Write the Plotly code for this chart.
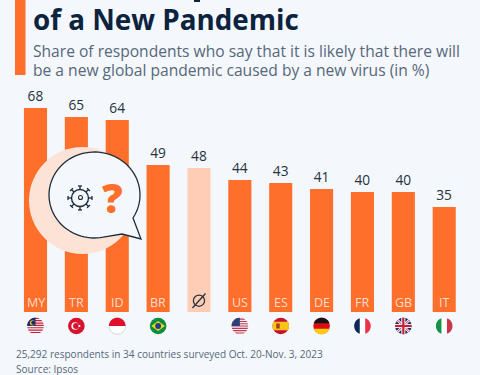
import math
import plotly.graph_objects as go

codes = ["MY", "TR", "ID", "BR", "Ø", "US", "ES", "DE", "FR", "GB", "IT"]
values = [68, 65, 64, 49, 48, 44, 43, 41, 40, 40, 35]
title_line = "of a New Pandemic"
subtitle_lines = ["Share of respondents who say that it is likely that there will",
                  "be a new global pandemic caused by a new virus (in %)"]
note_lines = ["25,292 respondents in 34 countries surveyed Oct. 20-Nov. 3, 2023", "Source: Ipsos"]

W, H = 480, 375
ORANGE = "#ff6f2c"
PEACH = "#ffcdb5"
BG = "#f4f7fb"
NAVY = "#0c2340"
GREY = "#56687a"
X0, DX = 35.5, 40.87
Y0, PPU = 312.0, 3.0
index = list(range(len(codes)))
colors = [PEACH if c == "Ø" else ORANGE for c in codes]

fig = go.Figure(go.Bar(
    x=index, y=values, width=0.565, marker=dict(color=colors, line_width=0),
    text=[str(v) for v in values], textposition="outside", cliponaxis=False,
    textfont=dict(family="Open Sans", size=13.7, color="#26323d"), hoverinfo="skip"))

shapes, ann = [], []
def X(p): return p / W
def Y(p): return 1 - p / H
def rect(x0, y0, x1, y1, c):
    shapes.append(dict(type="rect", xref="paper", yref="paper", x0=X(x0), x1=X(x1), y0=Y(y0), y1=Y(y1), fillcolor=c, line_width=0, layer="above"))
def circ(cx, cy, r, fill="rgba(0,0,0,0)", line=None, lw=1):
    shapes.append(dict(type="circle", xref="paper", yref="paper", x0=X(cx-r), x1=X(cx+r), y0=Y(cy+r), y1=Y(cy-r), fillcolor=fill, line=dict(color=line or "rgba(0,0,0,0)", width=lw if line else 0), layer="above"))
def poly(pts, fill="rgba(0,0,0,0)", line=None, lw=1, close=True):
    d = "M" + " L".join(f"{X(a):.5f},{Y(b):.5f}" for a, b in pts) + (" Z" if close else "")
    shapes.append(dict(type="path", xref="paper", yref="paper", path=d, fillcolor=fill, line=dict(color=line or "rgba(0,0,0,0)", width=lw if line else 0), layer="above"))
def seg(x0, y0, x1, y1, c, lw=1):
    shapes.append(dict(type="line", xref="paper", yref="paper", x0=X(x0), x1=X(x1), y0=Y(y0), y1=Y(y1), line=dict(color=c, width=lw), layer="above"))
def text(x, y, s, size, color, family="Open Sans", weight=None, anchor="left"):
    ann.append(dict(xref="paper", yref="paper", x=X(x), y=Y(y), text=s, showarrow=False, xanchor=anchor, yanchor="middle",
                    font=dict(family=family, size=size, color=color, weight=weight or 400)))

def hband(cx, cy, r, a, b, c):
    n = 16
    A, B = math.asin(a), math.asin(b)
    right = [(cx + r*math.cos(A+(B-A)*i/n), cy + r*math.sin(A+(B-A)*i/n)) for i in range(n+1)]
    left = [(cx - r*math.cos(B-(B-A)*i/n), cy + r*math.sin(B-(B-A)*i/n)) for i in range(n+1)]
    poly(right + left, c)
def vband(cx, cy, r, a, b, c):
    n = 16
    A, B = math.asin(a), math.asin(b)
    low = [(cx + r*math.sin(A+(B-A)*i/n), cy + r*math.cos(A+(B-A)*i/n)) for i in range(n+1)]
    up = [(cx + r*math.sin(B-(B-A)*i/n), cy - r*math.cos(B-(B-A)*i/n)) for i in range(n+1)]
    poly(low + up, c)
def quarter(cx, cy, r, c):
    pts = [(cx, cy)] + [(cx - r*math.cos(math.radians(t)), cy - r*math.sin(math.radians(t))) for t in range(0, 91, 6)]
    poly(pts, c)

# header
rect(15, 0, 25.5, 75, ORANGE)
text(30.5, 19, title_line, 27.8, NAVY, weight=700)
text(30.5, 50.5, subtitle_lines[0], 15.6, GREY)
text(30.5, 70, subtitle_lines[1], 15.6, GREY)
# tail of the letter cut off by the top edge
seg(194, 1, 200, 1, NAVY, 2)

# codes inside bars
for i, c in enumerate(codes):
    cx = X0 + DX * i
    if c == "Ø":
        circ(cx, 300.7, 5.6, line="#26323d", lw=1.3)
        seg(cx-6.5, 308, cx+6.5, 293.5, "#26323d", 1.3)
    else:
        text(cx, 302, c, 12.5, "#ffdccb", anchor="center")

# flags
FY, FR = 326, 8.3
def flag(i, code):
    cx = X0 + DX * i
    if code == "MY":
        circ(cx, FY, FR, "#eef1f6")
        for k in (-7, -5, -3, -1, 1, 3, 5):
            hband(cx, FY, FR, max(-0.999, k/7), min(0.999, (k+1)/7), "#c8203a")
        quarter(cx, FY, FR, "#15306b")
        circ(cx-3, FY-3.2, 2.6, "#f2c230")
        circ(cx-2.2, FY-3.2, 2.1, "#15306b")
    elif code == "TR":
        circ(cx, FY, FR, "#d6122c")
        circ(cx-1.2, FY, 3.8, "#ffffff")
        circ(cx-0.3, FY, 3.0, "#d6122c")
        circ(cx+3, FY, 1.1, "#ffffff")
    elif code == "ID":
        circ(cx, FY, FR, "#ffffff", "#d5d9de", 1)
        hband(cx, FY, FR, -0.999, 0, "#e0102c")
    elif code == "BR":
        circ(cx, FY, FR, "#0c8f3d")
        poly([(cx-6.8, FY), (cx, FY-5), (cx+6.8, FY), (cx, FY+5)], "#f6d21f")
        circ(cx, FY, 2.9, "#1a3f8f")
    elif code == "US":
        circ(cx, FY, FR, "#eef0f4")
        for k in range(-3, 4):
            a, b = k/3.6 - 0.06, k/3.6 + 0.07
            hband(cx, FY, FR, max(a, -0.99), min(b, 0.99), "#c5394f")
        quarter(cx, FY, FR, "#2c3f78")
    elif code == "ES":
        circ(cx, FY, FR, "#c8102e")
        hband(cx, FY, FR, -0.5, 0.5, "#f7c41c")
        rect(cx-4.5, FY-2.5, cx-1, FY+2.5, "#ad3a1e")
    elif code == "DE":
        circ(cx, FY, FR, "#dd0c12")
        hband(cx, FY, FR, -0.999, -0.33, "#141414")
        hband(cx, FY, FR, 0.33, 0.999, "#fbcd0d")
    elif code == "FR":
        circ(cx, FY, FR, "#ffffff")
        vband(cx, FY, FR, -0.999, -0.33, "#10275c")
        vband(cx, FY, FR, 0.33, 0.999, "#e8354a")
    elif code == "GB":
        circ(cx, FY, FR, "#1c2f6e")
        d = FR * 0.7
        seg(cx-d, FY-d, cx+d, FY+d, "#ffffff", 2.6)
        seg(cx-d, FY+d, cx+d, FY-d, "#ffffff", 2.6)
        seg(cx-d, FY-d, cx+d, FY+d, "#c8203a", 1)
        seg(cx-d, FY+d, cx+d, FY-d, "#c8203a", 1)
        seg(cx, FY-FR, cx, FY+FR, "#ffffff", 4)
        seg(cx-FR, FY, cx+FR, FY, "#ffffff", 4)
        seg(cx, FY-FR, cx, FY+FR, "#c8203a", 2.2)
        seg(cx-FR, FY, cx+FR, FY, "#c8203a", 2.2)
    elif code == "IT":
        circ(cx, FY, FR, "#ffffff")
        vband(cx, FY, FR, -0.999, -0.33, "#159149")
        vband(cx, FY, FR, 0.33, 0.999, "#c8374a")
for i, c in enumerate(codes):
    if c != "Ø":
        flag(i, c)

# notes
text(13.5, 354, note_lines[0], 10.05, GREY)
text(13.5, 369, note_lines[1], 10.05, GREY)

# bubble
BX, BY, RX, RY = 94.5, 195, 45.5, 43
circ(82.5, 200.5, 53.5, "#fde3d6")
arc = [(BX + RX*math.cos(math.radians(a)), BY + RY*math.sin(math.radians(a))) for a in range(75, 390, 4)]
poly([(133, 218), (141, 239), (122, 234)] + arc, BG, "#1e2d3d", 1.3, close=True)

# virus icon
vx, vy = 80, 198
circ(vx, vy, 8.5, line="#1e2d3d", lw=1.4)
circ(vx+0.5, vy-0.5, 2.0, line="#1e2d3d", lw=1.1)
for k in range(8):
    a = math.radians(k*45)
    ca, sa = math.cos(a), math.sin(a)
    seg(vx+8.5*ca, vy+8.5*sa, vx+12*ca, vy+12*sa, "#1e2d3d", 1.3)
    seg(vx+12*ca-2*sa, vy+12*sa+2*ca, vx+12*ca+2*sa, vy+12*sa-2*ca, "#1e2d3d", 1.3)
text(112, 197, "?", 41, ORANGE, weight=800, anchor="center")

fig.update_layout(
    width=W, height=H, autosize=False, margin=dict(l=0, r=0, t=0, b=0),
    paper_bgcolor=BG, plot_bgcolor=BG, showlegend=False,
    xaxis=dict(range=[-X0/DX, (W-X0)/DX], visible=False, fixedrange=True),
    yaxis=dict(range=[-(H-Y0)/PPU, Y0/PPU], visible=False, fixedrange=True),
    shapes=shapes, annotations=ann)
fig.write_html("out.html", config=dict(displayModeBar=False),
               post_script="document.body.style.margin='0';document.body.style.overflow='hidden';document.body.style.background='#f4f7fb';")
